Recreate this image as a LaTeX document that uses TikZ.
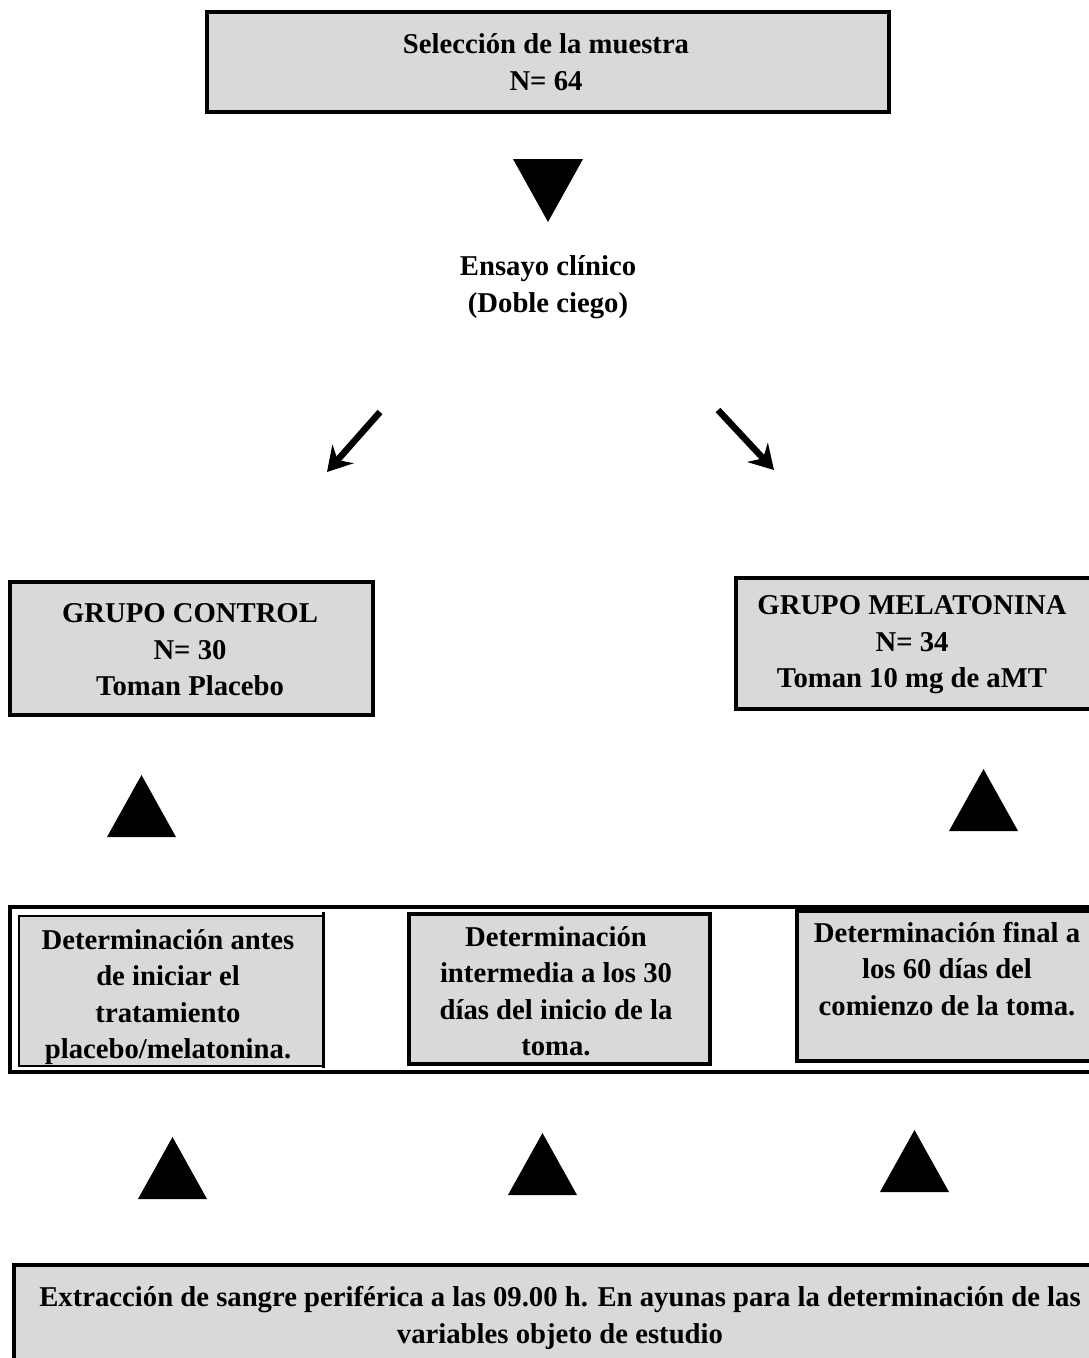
\documentclass[tikz,border=0pt]{standalone}
\usepackage{fontspec}
\setmainfont{Liberation Serif}
\usetikzlibrary{arrows.meta}
\begin{document}
\begin{tikzpicture}[x=1pt,y=-1pt,
  txt/.style={font=\bfseries\fontsize{28.7}{36.5}\selectfont, align=center, inner sep=0pt},
  graybox/.style={draw=black, fill=black!15, line width=3.5pt, inner sep=0pt, anchor=north west},
  thinbox/.style={draw=black, fill=black!15, line width=2pt, inner sep=0pt, anchor=north west},
  tri/.style={fill=black},
  arr/.style={line width=6.5pt, -{Stealth[length=24pt,width=28pt,inset=8pt]}}]
\useasboundingbox (0,0) rectangle (1089,1358);
\clip (0,0) rectangle (1089,1358);
% top box
\node[graybox, minimum width=682pt, minimum height=100pt] (sel) at (205,10) {};
\node[txt] (seltxt) at (546,62) {Selección de la muestra\\N= 64};
\fill[tri] (513,159) -- (583,159) -- (548,222) -- cycle;
\node[txt] (ens) at (548,287) {Ensayo clínico\\(Doble ciego)};
\coordinate (la1) at (380,412); \coordinate (la2) at (327,472);
\coordinate (ra1) at (718,410); \coordinate (ra2) at (774,470);
\draw[arr] (la1) -- (la2);
\draw[arr] (ra1) -- (ra2);
% groups
\node[graybox, minimum width=363pt, minimum height=133pt] (ctrl) at (8,580) {};
\node[txt] (ctrltxt) at (190,650) {GRUPO CONTROL\\N= 30\\Toman Placebo};
\node[graybox, minimum width=370pt, minimum height=131pt] (mel) at (734,576) {};
\node[txt] (meltxt) at (912,645) {GRUPO MELATONINA\\N= 34\\Toman 10 mg de aMT};
\fill[tri] (107,837) -- (176,837) -- (141.5,775) -- cycle;
\fill[tri] (949,831) -- (1018,831) -- (983.5,769) -- cycle;
% middle row
\draw[line width=4.5pt] (10,907) rectangle (1100,1072);
\node[thinbox, minimum width=305pt, minimum height=150pt] (d1) at (18,915) {};
\draw[line width=3pt] (323,912) -- (323,1068);
\node[graybox, minimum width=301pt, minimum height=150pt] (d2) at (407,912) {};
\node[graybox, minimum width=310pt, minimum height=150pt] (d3) at (795,909) {};
\node[txt, anchor=north] (d1txt) at (168,929) {Determinación antes\\de iniciar el\\tratamiento\\placebo/melatonina.};
\node[txt, anchor=north] (d2txt) at (556,926) {Determinación\\intermedia a los 30\\días del inicio de la\\toma.};
\node[txt, anchor=north] (d3txt) at (947,922) {Determinación final a\\los 60 días del\\comienzo de la toma.};
\fill[tri] (138,1199) -- (207,1199) -- (172.5,1137) -- cycle;
\fill[tri] (508,1195) -- (577,1195) -- (542.5,1133) -- cycle;
\fill[tri] (880,1192) -- (949,1192) -- (914.5,1130) -- cycle;
% bottom box
\node[graybox, line width=4pt, minimum width=1100pt, minimum height=120pt] (ext) at (12,1263) {};
\node[txt] (exttxt) at (560,1318) {Extracción de sangre periférica a las 09.00 h. En ayunas para la determinación de las\\variables objeto de estudio};
\end{tikzpicture}
\end{document}
